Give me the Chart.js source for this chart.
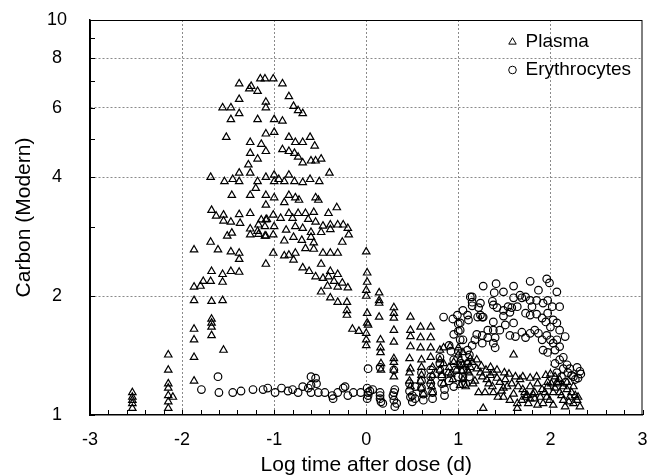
<!DOCTYPE html>
<html>
<head>
<meta charset="utf-8">
<script src="https://cdn.jsdelivr.net/npm/chart.js"></script>
<style>
  html, body { margin: 0; padding: 0; background: #fff; }
</style>
</head>
<body>
<canvas id="carbon_chart" width="648" height="476"></canvas>
<script>
//  Données : [log temps (j), carbone (Modern)]
var plasma = [
  [-2.54,1.04],[-2.54,1.07],[-2.54,1.09],[-2.54,1.11],[-2.54,1.14],
  [-2.15,1.42],[-2.15,1.30],[-2.15,1.20],[-2.15,1.17],[-2.15,1.12],[-2.15,1.08],[-2.15,1.04],[-2.10,1.11],
  [-1.87,2.62],[-1.87,2.11],[-1.87,1.95],[-1.87,1.65],[-1.87,1.55],[-1.87,1.40],[-1.87,1.22],
  [-1.80,2.12],[-1.77,2.18],[-1.69,2.74],[-1.69,2.18],[-1.68,2.31],[-1.68,1.94],[-1.68,1.75],[-1.68,1.71],[-1.68,1.67],[-1.68,1.59],
  [-1.68,3.30],[-1.63,3.19],[-1.55,3.21],[-1.55,3.10],[-1.47,3.08],[-1.38,3.22],[-1.37,3.06],[-1.26,3.24],[-1.14,3.12],[-1.08,3.13],
  [-1.17,3.03],[-1.26,2.96],[-1.18,2.92],[-1.26,2.86],[-1.17,2.87],[-1.09,2.84],[-1.46,2.89],[-1.51,2.84],[-1.61,2.62],[-1.47,2.59],
  [-1.38,2.57],[-1.38,2.48],[-1.09,2.41],[-1.47,2.31],[-1.56,2.27],[-1.38,2.30],[-1.56,2.17],[-1.56,1.95],[-1.55,1.46],
  [-1.38,6.9],[-1.25,6.8],[-1.27,6.7],[-1.15,7.1],[-1.10,7.1],[-1.01,7.1],[-1.18,6.6],[-0.91,6.9],[-1.38,6.3],[-0.84,6.4],
  [-1.09,6.2],[-1.09,6.0],[-0.79,6.05],[-0.74,5.9],[-0.69,5.8],[-1.56,6.0],[-1.47,6.0],[-1.38,5.8],[-1.47,5.6],[-1.18,5.6],
  [-1.0,5.6],[-0.91,5.55],[-1.09,5.15],[-1.0,5.2],[-1.52,5.05],[-0.84,5.05],[-0.61,5.05],[-1.26,4.9],[-1.14,4.85],[-0.77,4.9],
  [-0.69,4.9],[-0.56,4.8],[-0.91,4.7],[-1.26,4.6],[-1.09,4.65],[-0.84,4.65],[-0.78,4.6],[-0.74,4.5],[-1.18,4.45],[-0.69,4.35],
  [-0.6,4.4],[-0.55,4.4],[-0.49,4.45],[-1.28,4.3],[-1.26,4.1],[-0.40,4.1],[-1.69,4.0],[-1.38,4.1],[-1.09,4.0],[-1.0,4.05],
  [-0.84,4.05],[-0.61,3.95],[-1.54,3.9],[-1.45,3.95],[-1.38,3.9],[-1.18,3.9],[-1.0,3.9],[-0.89,3.9],[-0.78,3.9],[-0.69,3.88],
  [-0.51,3.9],[-0.95,3.95],[-1.2,3.75],[-1.46,3.6],[-1.26,3.6],[-1.09,3.6],[-1.0,3.55],[-0.84,3.6],[-0.77,3.55],[-0.73,3.5],
  [-0.55,3.55],[-0.52,3.5],[-0.89,3.45],[-1.09,3.4],[-0.32,3.35],
  [-1.01,3.21],[-0.84,3.24],[-0.74,3.24],[-0.66,3.24],[-0.57,3.26],[-0.41,3.24],[-1.09,3.12],[-0.93,3.15],[-0.80,3.15],[-0.63,3.13],
  [-0.55,3.08],[-0.47,3.01],[-0.39,3.03],[-0.31,3.03],[-0.25,3.03],[-0.20,2.97],[-1.10,3.0],[-1.0,3.0],[-0.87,2.94],[-0.77,3.0],
  [-0.69,2.97],[-0.60,2.9],[-0.49,2.9],[-0.39,2.95],[-0.19,2.86],[-1.10,2.84],[-1.01,2.86],[-0.89,2.76],[-0.79,2.82],[-0.70,2.77],
  [-0.60,2.82],[-0.57,2.73],[-0.26,2.74],[-0.77,2.57],[-0.66,2.64],[-0.57,2.63],[-0.47,2.57],[-0.39,2.57],[-0.31,2.57],[-1.01,2.57],
  [-0.89,2.53],[-0.84,2.54],[-0.79,2.47],[-0.69,2.36],[-0.62,2.31],[-0.49,2.41],[-0.39,2.31],[-0.31,2.27],[-0.55,2.24],[-0.47,2.22],
  [-0.41,2.24],[-0.35,2.18],[-0.26,2.16],[-0.20,2.10],[-0.42,2.12],[-0.31,2.11],[-0.49,2.05],[-0.39,1.98],[-0.31,1.93],[-0.21,1.93],
  [-0.21,1.84],[-0.21,1.79],[-0.15,1.65],[-0.08,1.63],[0.0,1.61],
  [0.0,2.59],[0.01,2.29],[0.01,2.17],[0.0,2.07],[0.0,2.0],[0.01,1.81],[0.02,1.69],[0.01,1.71],[0.0,1.55],[0.0,1.50],
  [0.14,2.04],[0.14,1.95],[0.14,1.92],[0.14,1.77],[0.155,1.55],[0.155,1.48],[0.155,1.44],
  [0.30,1.87],[0.30,1.81],[0.30,1.76],[0.30,1.64],[0.30,1.53],[0.30,1.39],[0.30,1.36],
  [0.48,1.77],[0.48,1.64],[0.48,1.58],[0.48,1.49],[0.47,1.39],[0.48,1.31],[0.47,1.28],
  [0.59,1.67],[0.59,1.57],[0.59,1.48],[0.60,1.38],[0.60,1.32],[0.60,1.26],
  [0.70,1.67],[0.70,1.57],[0.70,1.48],[0.70,1.40],[0.72,1.32],[0.72,1.26],
  [0.80,1.46],[0.80,1.38],[0.89,1.28],[0.84,1.20],[0.94,1.23],[1.02,1.19],
  [0.47,1.22],[0.48,1.18],[0.59,1.22],[0.6,1.17],[0.62,1.13],[0.7,1.22],[0.71,1.18],[0.72,1.14],[0.8,1.3],[0.82,1.26],
  [0.84,1.35],[0.9,1.32],[0.92,1.27],[0.95,1.36],[0.98,1.3],[1.0,1.42],[1.02,1.33],[0.84,1.48],[0.91,1.49],[1.0,1.48],
  [1.05,1.44],[1.13,1.39],[0.3,1.3],[0.3,1.25],[0.16,1.35],[0.16,1.3],
  [1.05,1.34],[1.1,1.3],[1.15,1.36],[1.2,1.38],[1.25,1.33],[1.3,1.3],[1.35,1.32],[1.42,1.3],[1.5,1.28],[1.55,1.27],
  [1.62,1.25],[1.7,1.25],[1.78,1.24],[1.85,1.25],[1.95,1.26],[2.0,1.27],[2.05,1.25],[2.1,1.23],[2.18,1.21],[2.25,1.18],
  [1.20,1.31],[1.26,1.25],[1.38,1.28],[1.42,1.24],[1.51,1.23],[1.60,1.42],[1.49,1.17],[1.37,1.18],[1.29,1.14],[1.11,1.28],
  [1.05,1.23],[1.08,1.18],[1.16,1.20],[1.22,1.14],[1.38,1.14],[1.49,1.11],[1.58,1.20],[1.65,1.18],[1.70,1.16],[1.75,1.12],
  [1.69,1.09],[1.78,1.10],[1.83,1.14],[1.89,1.11],[1.92,1.07],[1.97,1.18],[2.01,1.20],[2.05,1.17],[2.08,1.20],[2.10,1.14],
  [2.14,1.09],[2.18,1.16],[2.21,1.11],[2.25,1.07],[2.29,1.09],[2.23,1.14],[2.32,1.05],[2.16,1.05],[2.03,1.06],[1.86,1.06],
  [1.76,1.07],[1.64,1.07],[1.56,1.09],[1.43,1.11],[1.27,1.04],[1.64,1.04],[1.96,1.11],[1.91,1.16],[1.78,1.18],[1.53,1.18],
  [1.45,1.21],[1.31,1.23],[1.24,1.28],[1.13,1.32],[1.04,1.29],[1.02,1.38],[1.10,1.36],[1.35,1.26],[1.67,1.23],[1.86,1.20],
  [1.97,1.21],[2.07,1.21],[2.14,1.18],[2.03,1.14],[1.83,1.10],[1.73,1.11],[2.27,1.12],[2.30,1.11],
  [1.18,1.22],[1.33,1.20],[1.47,1.15],[1.60,1.13],[1.72,1.14],[1.81,1.13],[1.94,1.14],[2.12,1.12],[2.20,1.08],[1.99,1.09]
];

var erythrocytes = [
  [-1.79,1.16],[-1.61,1.25],[-1.60,1.14],[-1.45,1.14],[-1.36,1.15],[-1.23,1.16],[-1.12,1.16],[-1.07,1.17],[-0.99,1.14],[-0.92,1.17],
  [-0.85,1.15],[-0.80,1.16],[-0.74,1.14],[-0.69,1.18],[-0.63,1.17],[-0.60,1.25],[-0.55,1.24],[-0.60,1.19],[-0.54,1.20],[-0.60,1.14],
  [-0.52,1.14],[-0.45,1.14],[-0.37,1.12],[-0.36,1.10],[-0.31,1.14],[-0.25,1.17],[-0.23,1.18],[-0.20,1.12],[-0.14,1.14],[-0.06,1.14],
  [0.01,1.17],[0.02,1.14],[0.01,1.10],[0.07,1.16],[0.15,1.14],[0.15,1.10],[0.18,1.07],[0.30,1.14],[0.30,1.09],[0.33,1.07],
  [0.02,1.31],[0.15,1.32],[0.30,1.30],[0.53,1.18],[0.02,1.12],[0.04,1.15],[0.15,1.12],[0.16,1.08],[0.29,1.12],[0.31,1.16],[0.31,1.05],
  [0.47,1.2],[0.47,1.15],[0.48,1.11],[0.5,1.12],[0.5,1.08],[0.53,1.1],[0.6,1.28],[0.6,1.22],[0.6,1.17],[0.62,1.13],
  [0.62,1.09],[0.7,1.3],[0.7,1.25],[0.7,1.2],[0.72,1.14],[0.72,1.1],[0.8,1.4],[0.8,1.35],[0.8,1.3],[0.82,1.25],
  [0.82,1.2],[0.85,1.16],[0.85,1.12],[0.9,1.5],[0.92,1.45],[0.95,1.6],[0.95,1.38],[0.97,1.3],[1.0,1.7],[1.0,1.63],
  [1.02,1.55],[1.0,1.45],[1.03,1.35],[1.05,1.25],[1.05,1.2],[0.84,1.77],[0.99,1.79],[1.02,1.71],[0.94,1.75],
  [0.9,1.22],[0.95,1.18],[1.0,1.25],[1.05,1.3],[1.1,1.35],[1.12,1.42],[1.15,1.5],[1.18,1.55],[1.2,1.6],[1.08,1.2],[1.12,1.25],
  [1.13,1.99],[1.10,1.79],[1.15,1.93],[1.22,1.87],[1.26,1.77],
  [1.27,2.12],[1.41,2.15],[1.60,2.12],[1.78,2.18],[1.96,2.21],[1.99,2.16],[2.07,2.05],[1.49,2.05],[1.39,2.04],[1.15,1.99],
  [1.24,1.92],[1.15,1.89],[1.37,1.94],[1.38,1.90],[1.42,1.87],[1.49,1.84],[1.54,1.88],[1.58,1.87],[1.60,1.98],[1.67,2.01],
  [1.69,1.98],[1.73,1.99],[1.78,1.95],[1.80,1.88],[1.85,1.95],[1.87,2.07],[1.92,1.92],[1.97,1.95],[2.02,1.88],[2.10,1.88],
  [1.27,1.77],[1.24,1.79],[1.21,1.77],[1.49,1.78],[1.56,1.82],[1.64,1.88],[1.73,1.81],[1.78,1.79],[1.85,1.80],[1.91,1.76],
  [1.95,1.72],[1.97,1.81],[2.03,1.74],[2.00,1.67],[2.07,1.71],[1.38,1.72],[1.32,1.64],[1.38,1.64],[1.26,1.59],[1.32,1.57],
  [1.26,1.52],[1.40,1.57],[1.40,1.48],[1.38,1.52],[1.45,1.64],[1.51,1.69],[1.60,1.71],[1.56,1.59],[1.62,1.58],[1.69,1.62],
  [1.73,1.57],[1.78,1.61],[1.83,1.64],[1.87,1.61],[1.91,1.55],[1.96,1.59],[1.92,1.46],[1.97,1.44],[2.03,1.52],[2.05,1.46],
  [2.07,1.55],[2.10,1.49],[2.14,1.40],[2.10,1.38],[2.05,1.35],[2.18,1.34],[2.14,1.31],[2.21,1.31],[2.23,1.26],[2.27,1.23],
  [2.29,1.32],[2.07,1.28],[2.12,1.25],[2.16,1.21],[2.19,1.28],[2.25,1.25],[2.16,1.58],[2.10,1.64],[2.00,1.55],
  [1.05,1.84],[1.02,1.64],[1.05,1.55],[1.11,1.74],[1.10,1.46],[2.32,1.29],[2.30,1.24],[2.33,1.27]
];

//  Axes
var xTickLabels = [-3, -2, -1, 0, 1, 2, 3];
var xGridValues = [-2, -1, 0, 1, 2];
var yTickValues = [1, 2, 3, 4, 5, 6, 7, 8, 9, 10];
var yTickLabels = [1, 2, 4, 6, 8, 10];
var yGridValues = [2, 4, 6, 8];

var fontFamily = "'Liberation Sans', Arial, sans-serif";
var gridColor = "#8a8a8a";

function toPoints(list) {
  return list.map(function (p) { return { x: p[0], y: p[1] }; });
}

//  Cadre, graduations intérieures et légende
var framePlugin = {
  id: "frame",
  afterDraw: function (chart) {
    var ctx = chart.ctx;
    var a = chart.chartArea;
    var xs = chart.scales.x;
    var ys = chart.scales.y;
    ctx.save();
    ctx.strokeStyle = "#000";
    ctx.lineWidth = 1;
    ctx.strokeRect(a.left + 0.5, a.top + 0.5, a.right - a.left - 1, a.bottom - a.top - 1);
    ctx.beginPath();
    xs.ticks.forEach(function (t) {
      var px = Math.round(xs.getPixelForValue(t.value)) + 0.5;
      ctx.moveTo(px, a.bottom);
      ctx.lineTo(px, a.bottom - 5);
    });
    ys.ticks.forEach(function (t) {
      var py = Math.round(ys.getPixelForValue(t.value)) + 0.5;
      ctx.moveTo(a.left, py);
      ctx.lineTo(a.left + 5, py);
    });
    ctx.stroke();

    ctx.font = "19px " + fontFamily;
    ctx.textBaseline = "middle";
    ctx.textAlign = "left";
    chart.data.datasets.forEach(function (ds, i) {
      var cx = a.right - 130;
      var cy = a.top + 22 + i * 28;
      ctx.strokeStyle = "#000";
      ctx.fillStyle = "rgba(0,0,0,0)";
      Chart.helpers.drawPoint(ctx, { pointStyle: ds.pointStyle, radius: ds.pointRadius, borderWidth: 1, rotation: 0 }, cx, cy);
      ctx.fillStyle = "#000";
      ctx.fillText(ds.label, cx + 13, cy);
    });
    ctx.restore();
  }
};

var carbon_ctx = document.getElementById("carbon_chart");
var carbon_chart = new Chart(carbon_ctx, {
  type: "scatter",
  data: {
    datasets: [
      {
        label: "Plasma",
        data: toPoints(plasma),
        pointStyle: "triangle",
        pointRadius: 4.3,
        borderColor: "#000",
        backgroundColor: "rgba(0,0,0,0)",
        borderWidth: 1.2
      },
      {
        label: "Erythrocytes",
        data: toPoints(erythrocytes),
        pointStyle: "circle",
        pointRadius: 3.8,
        borderColor: "#000",
        backgroundColor: "rgba(0,0,0,0)",
        borderWidth: 1.2
      }
    ]
  },
  options: {
    responsive: false,
    animation: false,
    events: [],
    layout: { padding: { top: 20, right: 5, bottom: 0, left: 0 } },
    plugins: {
      legend: { display: false },
      tooltip: { enabled: false }
    },
    scales: {
      x: {
        type: "linear",
        min: -3,
        max: 3,
        afterFit: function (scale) {
          scale.height = 61;
          scale.paddingLeft = 0;
          scale.paddingRight = 0;
        },
        ticks: {
          stepSize: 0.2,
          autoSkip: false,
          maxRotation: 0,
          padding: 14,
          color: "#000",
          font: { family: fontFamily, size: 18 },
          callback: function (v) {
            return xTickLabels.indexOf(Math.round(v * 10) / 10) >= 0 ? String(Math.round(v)) : "";
          }
        },
        grid: {
          drawTicks: false,
          lineWidth: 1,
          color: function (c) {
            return c.tick && xGridValues.indexOf(Math.round(c.tick.value * 10) / 10) >= 0 ? gridColor : "rgba(0,0,0,0)";
          }
        },
        border: { display: true, color: "#000", width: 1.5, dash: [2, 2] },
        title: {
          display: true,
          text: "Log time after dose (d)",
          color: "#000",
          font: { family: fontFamily, size: 21, lineHeight: 1 },
          padding: { top: 0, bottom: 0 }
        }
      },
      y: {
        type: "logarithmic",
        min: 1,
        max: 10,
        afterFit: function (scale) {
          scale.width = 90;
          scale.paddingTop = 0;
          scale.paddingBottom = 0;
        },
        afterBuildTicks: function (scale) {
          scale.ticks = yTickValues.map(function (v) { return { value: v }; });
        },
        ticks: {
          autoSkip: false,
          crossAlign: "center",
          padding: 23,
          color: "#000",
          font: { family: fontFamily, size: 18 },
          callback: function (v) {
            return yTickLabels.indexOf(v) >= 0 ? String(v) : "";
          }
        },
        grid: {
          drawTicks: false,
          lineWidth: 1,
          color: function (c) {
            return c.tick && yGridValues.indexOf(c.tick.value) >= 0 ? gridColor : "rgba(0,0,0,0)";
          }
        },
        border: { display: true, color: "#000", width: 1.5, dash: [2, 2] },
        title: {
          display: true,
          text: "Carbon (Modern)",
          color: "#000",
          font: { family: fontFamily, size: 21, lineHeight: 1 },
          padding: { top: 14, bottom: 0 }
        }
      }
    }
  },
  plugins: [framePlugin]
});
</script>
</body>
</html>
